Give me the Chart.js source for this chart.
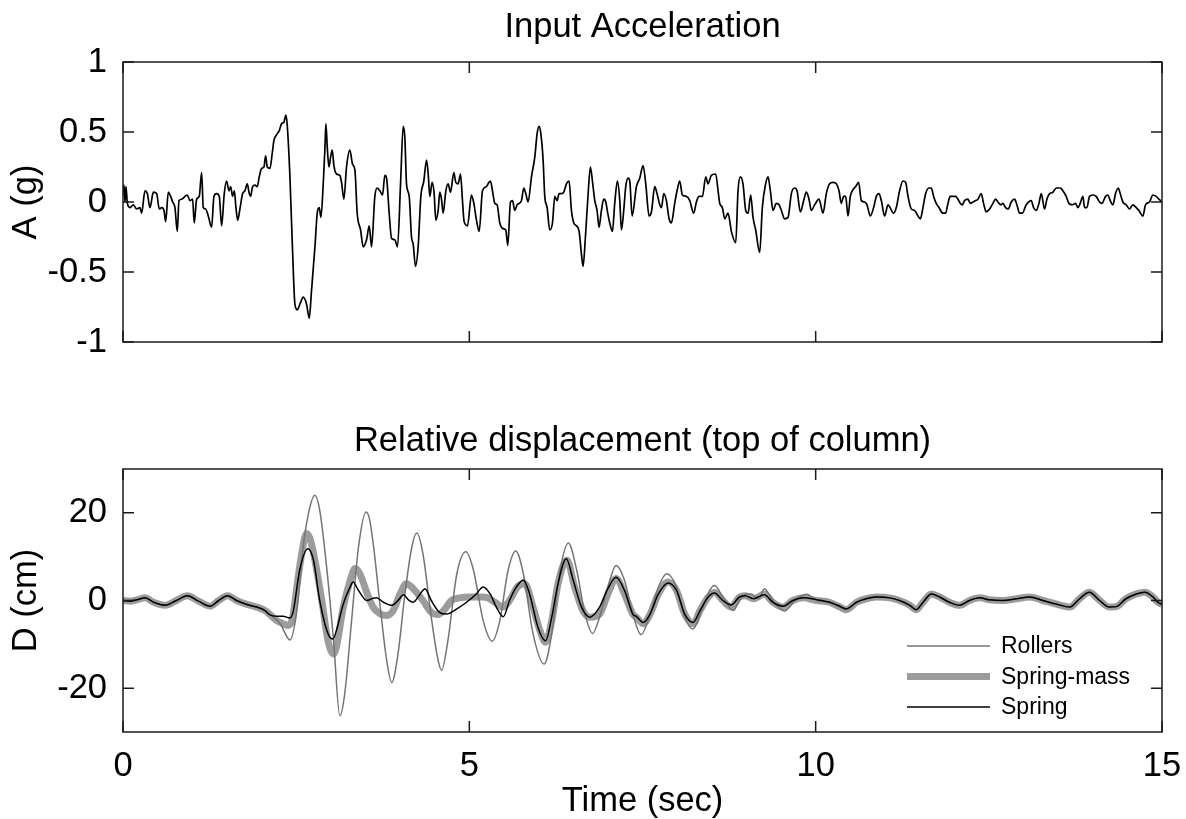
<!DOCTYPE html>
<html>
<head>
<meta charset="utf-8">
<title>Input Acceleration / Relative displacement</title>
<script src="https://cdn.jsdelivr.net/npm/chart.js@4"></script>
<style>
  html, body { margin: 0; padding: 0; background: #fff; }
  #wrap { position: relative; width: 1186px; height: 819px; }
  #wrap canvas { position: absolute; left: 0; }
</style>
</head>
<body>
<div id="wrap">
  <canvas id="accChart" width="1186" height="390" style="top:0px"></canvas>
  <canvas id="dispChart" width="1186" height="419" style="top:400px"></canvas>
</div>
<script>
// ---- data ----
const timeTicks = [0, 5, 10, 15];
const accTicks = [-1, -0.5, 0, 0.5, 1];
const dispTicks = [-20, 0, 20];

// input acceleration (g)
const accTime = [
  0, 0.014, 0.029, 0.043, 0.063, 0.101, 0.149, 0.197, 0.245, 0.269, 0.317, 0.351, 0.39, 0.438, 0.486, 0.524, 0.558, 0.592, 0.616, 0.654,
  0.688, 0.717, 0.75, 0.784, 0.808, 0.847, 0.895, 0.928, 0.967, 1.005, 1.029, 1.063, 1.101, 1.135, 1.159, 1.193, 1.231, 1.279, 1.313, 1.352,
  1.39, 1.424, 1.462, 1.496, 1.53, 1.554, 1.582, 1.607, 1.631, 1.655, 1.688, 1.727, 1.76, 1.794, 1.823, 1.842, 1.871, 1.905, 1.938, 1.967,
  2.001, 2.035, 2.059, 2.083, 2.121, 2.155, 2.179, 2.217, 2.256, 2.29, 2.323, 2.352, 2.371, 2.41, 2.448, 2.482, 2.516, 2.554, 2.602, 2.65,
  2.689, 2.722, 2.771, 2.804, 2.833, 2.857, 2.891, 2.915, 2.929, 2.949, 2.973, 2.997, 3.021, 3.045, 3.083, 3.131, 3.155, 3.189, 3.227, 3.275,
  3.314, 3.348, 3.381, 3.43, 3.468, 3.516, 3.555, 3.588, 3.636, 3.67, 3.708, 3.747, 3.78, 3.805, 3.843, 3.877, 3.925, 3.963, 4.007, 4.045,
  4.069, 4.093, 4.132, 4.165, 4.189, 4.223, 4.261, 4.3, 4.343, 4.382, 4.406, 4.43, 4.463, 4.492, 4.516, 4.55, 4.574, 4.598, 4.622, 4.661,
  4.694, 4.728, 4.776, 4.805, 4.839, 4.872, 4.901, 4.925, 4.973, 5.031, 5.065, 5.103, 5.142, 5.19, 5.247, 5.281, 5.305, 5.334, 5.368, 5.401,
  5.44, 5.488, 5.526, 5.555, 5.594, 5.623, 5.656, 5.69, 5.719, 5.753, 5.786, 5.815, 5.849, 5.897, 5.945, 5.979, 6.007, 6.032, 6.065, 6.089,
  6.123, 6.161, 6.2, 6.234, 6.267, 6.296, 6.33, 6.363, 6.402, 6.44, 6.474, 6.508, 6.546, 6.585, 6.618, 6.642, 6.676, 6.715, 6.748, 6.777,
  6.811, 6.844, 6.873, 6.907, 6.941, 6.97, 6.998, 7.027, 7.066, 7.099, 7.138, 7.172, 7.196, 7.229, 7.258, 7.292, 7.316, 7.35, 7.412, 7.46,
  7.508, 7.547, 7.595, 7.629, 7.677, 7.71, 7.749, 7.773, 7.807, 7.845, 7.884, 7.917, 7.965, 7.999, 8.037, 8.076, 8.134, 8.182, 8.239, 8.278,
  8.316, 8.365, 8.413, 8.446, 8.494, 8.557, 8.591, 8.615, 8.653, 8.687, 8.735, 8.783, 8.846, 8.879, 8.913, 8.951, 8.99, 9.024, 9.062, 9.096,
  9.134, 9.192, 9.23, 9.278, 9.312, 9.346, 9.384, 9.432, 9.471, 9.505, 9.553, 9.601, 9.649, 9.697, 9.731, 9.779, 9.827, 9.865, 9.904, 9.937,
  9.986, 10.048, 10.106, 10.154, 10.202, 10.25, 10.298, 10.337, 10.37, 10.404, 10.433, 10.467, 10.5, 10.529, 10.577, 10.62, 10.659, 10.707, 10.741, 10.789,
  10.837, 10.876, 10.914, 10.948, 10.996, 11.044, 11.126, 11.164, 11.212, 11.26, 11.299, 11.333, 11.381, 11.429, 11.477, 11.511, 11.549, 11.588, 11.636, 11.669,
  11.703, 11.741, 11.78, 11.838, 11.876, 11.91, 11.943, 11.982, 12.02, 12.054, 12.088, 12.117, 12.15, 12.198, 12.232, 12.271, 12.309, 12.343, 12.391, 12.424,
  12.463, 12.511, 12.559, 12.598, 12.631, 12.67, 12.703, 12.742, 12.78, 12.824, 12.872, 12.905, 12.944, 12.982, 13.04, 13.112, 13.146, 13.184, 13.223, 13.257,
  13.305, 13.338, 13.377, 13.425, 13.473, 13.531, 13.569, 13.617, 13.656, 13.704, 13.752, 13.786, 13.819, 13.858, 13.882, 13.915, 13.954, 14.002, 14.05, 14.098,
  14.132, 14.185, 14.218, 14.252, 14.291, 14.329, 14.368, 14.397, 14.435, 14.483, 14.531, 14.579, 14.628, 14.666, 14.724, 14.762, 14.82, 14.868, 14.916, 14.955,
  15
];
const accG = [
  0.05, 0.12, 0, 0.11, -0.01, -0.04, -0.02, -0.05, -0.04, -0.08, 0.08, 0.06, -0.04, 0.07, 0.06, -0.05, -0.04, -0.06, -0.14, 0.07,
  0.04, 0, -0.04, -0.21, 0.01, 0.02, 0.04, 0.05, 0.01, 0.02, -0.15, 0.02, 0.04, 0.21, -0.04, -0.05, -0.1, -0.18, 0.04, 0.06,
  0.04, -0.17, 0.06, 0.15, 0.08, 0.11, 0.04, 0.08, -0.04, -0.13, -0.05, 0.06, 0.08, 0.13, 0.06, 0.04, 0.11, 0.12, 0.11, 0.18,
  0.24, 0.25, 0.33, 0.25, 0.24, 0.35, 0.44, 0.48, 0.51, 0.56, 0.57, 0.62, 0.55, 0.18, -0.35, -0.73, -0.77, -0.73, -0.68, -0.73,
  -0.83, -0.63, -0.32, -0.08, -0.04, -0.11, 0.13, 0.38, 0.56, 0.39, 0.25, 0.32, 0.37, 0.26, 0.2, 0.19, 0.14, 0.02, 0.25, 0.37,
  0.27, 0.23, -0.08, -0.2, -0.32, -0.27, -0.17, -0.32, 0.04, 0.1, 0.08, 0.05, 0.19, 0.17, -0.08, -0.26, -0.27, -0.32, 0.13, 0.54,
  0.46, 0.13, 0.04, -0.25, -0.3, -0.46, -0.32, 0.04, 0.15, 0.3, 0.2, 0.04, 0.14, 0.06, -0.13, -0.06, 0.07, 0.02, -0.08, 0.08,
  0.13, 0.07, 0.21, 0.14, 0.13, 0.2, 0.01, -0.14, -0.17, 0.05, -0.01, -0.13, -0.21, 0.08, 0.11, 0.14, 0.15, 0.08, -0.01, -0.02,
  -0.15, -0.19, -0.2, -0.31, 0, 0.01, -0.06, -0.02, -0.01, 0.01, 0.1, 0.06, 0, 0.18, 0.32, 0.49, 0.54, 0.49, 0.3, 0.04,
  -0.04, -0.2, -0.15, 0.04, 0.01, 0.06, 0.06, 0.07, 0.13, 0.15, -0.06, -0.15, -0.17, -0.21, -0.37, -0.46, -0.25, 0.06, 0.25, 0.15,
  0.01, -0.06, -0.18, -0.06, 0.02, 0, -0.08, -0.15, -0.21, -0.01, 0.15, 0.01, -0.2, -0.06, 0.11, 0.17, 0.15, -0.1, 0.11, 0.17,
  0.26, 0.13, -0.1, -0.07, 0.11, 0.06, -0.02, -0.04, 0.06, 0.01, -0.12, -0.15, -0.01, 0.08, 0.15, 0.05, 0.04, 0.01, -0.08, 0,
  0.04, 0.04, 0.18, 0.13, 0.19, 0.2, 0.08, -0.01, -0.04, -0.12, -0.08, -0.21, -0.29, 0.08, 0.18, 0.13, -0.06, -0.08, 0.05, -0.11,
  -0.2, -0.36, -0.04, 0.13, 0.18, 0.08, -0.06, -0.01, -0.02, -0.06, -0.12, -0.11, 0.06, 0.1, 0.08, -0.07, 0.01, 0.07, 0.02, -0.06,
  -0.02, 0.02, -0.08, 0.06, 0.13, 0.14, 0.13, 0.08, -0.01, 0.04, 0.04, -0.1, 0.04, 0.08, 0.11, 0.14, 0.01, 0, -0.02, -0.1,
  -0.04, 0.04, 0.06, 0.01, -0.1, -0.02, -0.08, -0.04, 0.08, 0.15, 0.14, 0.04, -0.05, -0.06, -0.1, -0.12, -0.04, 0.06, 0.1, 0.1,
  0.04, -0.01, -0.04, -0.08, -0.08, -0.01, 0.04, 0.04, 0.04, 0.02, -0.01, -0.02, 0.01, 0.02, -0.01, 0, 0.01, 0.02, 0.06, -0.01,
  -0.07, -0.05, -0.01, 0.02, 0, -0.02, -0.01, -0.04, -0.05, 0, 0.02, -0.02, -0.08, -0.08, -0.02, 0.01, -0.04, -0.06, -0.01, 0.06,
  -0.05, 0.02, 0.06, 0.07, 0.1, 0.1, 0.08, 0.04, -0.01, -0.02, -0.01, -0.04, -0.01, 0.04, -0.04, -0.04, 0.04, 0.05, 0.04, 0,
  -0.01, 0.04, 0.05, 0.01, -0.02, 0.06, 0.1, 0.06, 0, -0.02, -0.05, -0.02, -0.04, -0.06, -0.1, -0.02, 0, 0.05, 0.04, 0.02,
  0
];

// relative displacement, top of column (cm)
const rollersTime = [
  0, 0.10, 0.20, 0.32, 0.44, 0.61, 0.77, 0.93, 1.09, 1.26, 1.38, 1.51, 1.64, 1.79, 1.93, 2.05, 2.12, 2.27, 2.41, 2.51,
  2.60, 2.70, 2.77, 2.84, 2.94, 3.04, 3.13, 3.20, 3.30, 3.40, 3.51, 3.56, 3.62, 3.71, 3.81, 3.88, 3.97, 4.07, 4.17, 4.24,
  4.33, 4.45, 4.55, 4.60, 4.69, 4.82, 4.95, 5.06, 5.20, 5.33, 5.44, 5.56, 5.67, 5.78, 5.92, 6.08, 6.19, 6.31, 6.43, 6.55,
  6.67, 6.78, 6.88, 7.00, 7.12, 7.24, 7.36, 7.48, 7.61, 7.73, 7.85, 7.99, 8.11, 8.23, 8.35, 8.47, 8.54, 8.66, 8.81, 8.90,
  9.00, 9.07, 9.17, 9.26, 9.38, 9.55, 9.70, 9.87, 10.01, 10.20, 10.35, 10.44, 10.59, 10.88, 11.07, 11.21, 11.36, 11.45, 11.55, 11.67,
  11.79, 11.93, 12.08, 12.22, 12.37, 12.51, 12.70, 12.90, 13.09, 13.28, 13.47, 13.67, 13.81, 13.95, 14.10, 14.24, 14.34, 14.48, 14.63, 14.75,
  14.87, 14.94, 15
];
const rollersDisp = [
  0, -0.15, 0.15, 0.6, -0.4, -1.1, 0, 1.1, -0.15, -1.3, 0, 1.1, 0, -0.9, -1.5, -2.3, -3.1, -5.3, -9.0, -2.3,
  12.2, 21.4, 24.0, 20.6, 7.6, -9.2, -26.3, -21.4, -4.6, 12.2, 20.2, 18.5, 12.0, -1.0, -14.0, -18.7, -12.2, 1.5, 12.2, 15.4,
  10.7, -3.8, -13.7, -15.9, -9.2, 6.1, 11.1, 6.9, -4.6, -9.3, -4.6, 6.9, 11.3, 6.1, -7.6, -14.5, -7.6, 6.9, 13.1, 6.9,
  -3.1, -7.5, -3.8, 3.1, 8.0, 4.6, -3.1, -7.8, -3.1, 3.1, 6.1, 3.1, -3.8, -6.5, -2.3, 2.3, 3.4, 0.8, -2.3, 0,
  1.5, 1.5, 0.4, 2.7, 0, -2.4, 0, 1.4, 0, -0.4, -1.5, -2.1, -0.4, 0.9, 0.6, 0, -1.1, -2.1, -0.4, 1.5,
  0.8, -0.4, -1.1, 0, 0.6, 0.15, 0, 0.4, 0.8, 0, -0.8, -1.5, 0.4, 1.9, 0, -1.5, -1.4, 0.4, 1.5, 1.9,
  0.8, -0.4, -0.9
];

const springMassTime = [
  0, 0.10, 0.20, 0.32, 0.44, 0.61, 0.77, 0.93, 1.09, 1.26, 1.38, 1.51, 1.64, 1.79, 1.93, 2.05, 2.12, 2.22, 2.31, 2.39,
  2.45, 2.51, 2.58, 2.65, 2.70, 2.77, 2.87, 2.96, 3.04, 3.08, 3.18, 3.28, 3.35, 3.42, 3.52, 3.61, 3.71, 3.81, 3.90, 4.00,
  4.09, 4.19, 4.33, 4.45, 4.55, 4.65, 4.74, 4.86, 5.01, 5.18, 5.27, 5.37, 5.49, 5.58, 5.70, 5.80, 5.92, 6.02, 6.10, 6.19,
  6.28, 6.41, 6.52, 6.64, 6.74, 6.88, 7.00, 7.12, 7.24, 7.36, 7.41, 7.51, 7.61, 7.73, 7.87, 7.99, 8.11, 8.23, 8.33, 8.45,
  8.54, 8.66, 8.78, 8.90, 8.98, 9.10, 9.17, 9.26, 9.38, 9.53, 9.67, 9.82, 10.01, 10.20, 10.35, 10.44, 10.59, 10.73, 10.88, 11.07,
  11.21, 11.36, 11.45, 11.55, 11.67, 11.79, 11.93, 12.08, 12.22, 12.37, 12.51, 12.70, 12.90, 13.09, 13.28, 13.47, 13.67, 13.81, 13.95, 14.10,
  14.24, 14.34, 14.48, 14.63, 14.75, 14.87, 14.94, 15
];
const springMassDisp = [
  0, -0.15, 0.15, 0.6, -0.4, -1.1, 0, 1.1, -0.15, -1.3, 0, 1.1, 0, -0.9, -1.5, -2.3, -3.2, -4.6, -5.3, -5.7,
  -3.8, 3.1, 10.7, 15.3, 14.1, 9.2, 0, -9.2, -12.2, -10.7, -1.5, 4.6, 7.3, 6.1, 1.8, -1.5, -3.0, -3.4, -2.3, 1.5,
  3.8, 2.7, 0, -2.7, -3.2, -1.9, 0, 0.6, 0.8, 0.8, 0.6, -0.4, -1.5, 0, 3.2, 3.8, -1.5, -6.9, -9.5, -4.6,
  3.8, 9.2, 3.1, -2.3, -3.8, -3.1, 1.5, 5.0, 1.5, -3.1, -3.8, -5.3, -3.1, 1.5, 4.2, 2.3, -3.1, -5.3, -2.3, 0.8,
  1.9, 0, -1.5, 0.8, 1.1, 0.4, 0.8, 1.5, -0.4, -1.5, 0, 0.6, 0, -0.4, -1.5, -2.1, -0.4, 0.4, 0.8, 0.6,
  0, -1.1, -2.1, -0.4, 1.5, 0.8, -0.4, -1.1, 0, 0.6, 0.15, 0, 0.4, 0.8, 0, -0.8, -1.5, 0.4, 1.9, 0,
  -1.5, -1.4, 0.4, 1.5, 1.9, 0.8, -0.4, -0.9
];

const springTime = [
  0, 0.10, 0.20, 0.32, 0.44, 0.61, 0.77, 0.93, 1.09, 1.26, 1.38, 1.51, 1.64, 1.79, 1.93, 2.05, 2.12, 2.22, 2.31, 2.41,
  2.46, 2.55, 2.67, 2.75, 2.84, 2.96, 3.03, 3.08, 3.18, 3.28, 3.32, 3.40, 3.52, 3.61, 3.66, 3.76, 3.88, 3.97, 4.05, 4.12,
  4.19, 4.29, 4.36, 4.45, 4.57, 4.67, 4.82, 4.96, 5.10, 5.20, 5.30, 5.39, 5.49, 5.58, 5.68, 5.78, 5.87, 5.99, 6.10, 6.19,
  6.28, 6.40, 6.50, 6.62, 6.74, 6.88, 7.00, 7.12, 7.24, 7.36, 7.41, 7.51, 7.61, 7.73, 7.87, 7.99, 8.11, 8.23, 8.33, 8.45,
  8.54, 8.66, 8.78, 8.90, 8.98, 9.10, 9.17, 9.26, 9.38, 9.53, 9.67, 9.82, 10.01, 10.20, 10.35, 10.44, 10.59, 10.73, 10.88, 11.07,
  11.21, 11.36, 11.45, 11.55, 11.67, 11.79, 11.93, 12.08, 12.22, 12.37, 12.51, 12.70, 12.90, 13.09, 13.28, 13.47, 13.67, 13.81, 13.95, 14.10,
  14.24, 14.34, 14.48, 14.63, 14.75, 14.87, 14.94, 15
];
const springDisp = [
  0, -0.15, 0.15, 0.6, -0.4, -1.1, 0, 1.1, -0.15, -1.3, 0, 1.1, 0, -0.9, -1.5, -2.3, -3.3, -3.6, -3.6, -4.0,
  -2.3, 6.9, 11.8, 9.2, 0, -7.6, -8.8, -6.9, -0.8, 3.1, 4.2, 2.3, 0, 0.5, 0.6, -0.4, -1.1, 0, 1.3, 0.15,
  -0.4, 1.5, 2.7, 0, -2.7, -3.1, -1.9, -0.4, 1.5, 3.1, 1.5, -1.5, -3.7, 0, 3.1, 4.7, 1.5, -6.1, -9.2, -3.8,
  3.8, 9.5, 4.6, -1.5, -3.8, -1.5, 2.7, 5.3, 2.3, -3.1, -3.6, -5.0, -3.1, 1.5, 4.0, 2.3, -3.1, -5.0, -2.3, 0.8,
  1.7, 0, -1.0, 0.8, 1.1, 0.4, 0.8, 1.3, -0.4, -1.3, 0, 0.6, 0.2, -0.4, -1.3, -1.9, -0.4, 0.4, 0.8, 0.6,
  0, -1.1, -2.1, -0.4, 1.5, 0.8, -0.4, -1.1, 0, 0.6, 0.15, 0, 0.4, 0.8, 0, -0.8, -1.5, 0.4, 1.9, 0,
  -1.5, -1.4, 0.4, 1.5, 1.9, 0.8, -0.4, -0.9
];

// ---- drawing ----
const FONT = '"Liberation Sans", Arial, Helvetica, sans-serif';
const FONT_SIZE = 34.5;
Chart.defaults.font.family = FONT;
Chart.defaults.font.size = FONT_SIZE;
Chart.defaults.color = '#000';

const TICK_LEN = 11;

function toPoints(ts, vs) {
  return ts.map((t, i) => ({ x: t, y: vs[i] }));
}

function fixTicks(values) {
  return function(scale) {
    scale.ticks = values.map(v => ({ value: v }));
  };
}

// matlab-style box with inward ticks on all four sides
const boxPlugin = {
  id: 'matlabBox',
  afterDatasetsDraw(chart) {
    const { ctx, chartArea: a, scales: { x, y } } = chart;
    ctx.save();
    ctx.strokeStyle = '#1a1a1a';
    ctx.lineWidth = 1.5;
    ctx.strokeRect(a.left, a.top, a.right - a.left, a.bottom - a.top);
    ctx.beginPath();
    x.ticks.forEach(t => {
      const px = x.getPixelForValue(t.value);
      ctx.moveTo(px, a.top);
      ctx.lineTo(px, a.top + TICK_LEN);
      ctx.moveTo(px, a.bottom);
      ctx.lineTo(px, a.bottom - TICK_LEN);
    });
    y.ticks.forEach(t => {
      const py = y.getPixelForValue(t.value);
      ctx.moveTo(a.left, py);
      ctx.lineTo(a.left + TICK_LEN, py);
      ctx.moveTo(a.right, py);
      ctx.lineTo(a.right - TICK_LEN, py);
    });
    ctx.stroke();
    ctx.restore();
  }
};

// title centred over the axes box (matlab style), not over the canvas
const axesTitle = {
  id: 'axesTitle',
  afterDraw(chart, args, opts) {
    const { ctx, chartArea: a } = chart;
    ctx.save();
    ctx.font = FONT_SIZE + 'px ' + FONT;
    ctx.fillStyle = '#000';
    ctx.textAlign = 'center';
    ctx.textBaseline = 'alphabetic';
    ctx.fillText(opts.text, (a.left + a.right) / 2, a.top - opts.gap);
    ctx.restore();
  }
};

// legend drawn inside the lower right corner, no frame
const legendOrder = ['Rollers', 'Spring-mass', 'Spring'];
const insideLegend = {
  id: 'insideLegend',
  afterDatasetsDraw(chart) {
    const { ctx, chartArea: a } = chart;
    ctx.save();
    ctx.font = '23px ' + FONT;
    ctx.textBaseline = 'middle';
    ctx.textAlign = 'left';
    ctx.fillStyle = '#000';
    legendOrder.forEach((label, i) => {
      const ds = chart.data.datasets.find(d => d.label === label);
      const yy = a.bottom - 86 + i * 30.5;
      ctx.strokeStyle = ds.borderColor;
      ctx.lineWidth = ds.borderWidth;
      ctx.beginPath();
      ctx.moveTo(a.right - 255, yy);
      ctx.lineTo(a.right - 172, yy);
      ctx.stroke();
      ctx.fillText(label, a.right - 161, yy + 1);
    });
    ctx.restore();
  }
};

function xScale(showLabels, axisHeight) {
  return {
    type: 'linear',
    min: 0,
    max: 15,
    afterBuildTicks: fixTicks(timeTicks),
    afterFit: s => { s.height = axisHeight; s.paddingLeft = 0; s.paddingRight = 0; },
    grid: { display: false },
    border: { display: false },
    ticks: { display: showLabels, padding: 6, maxRotation: 0, callback: v => String(v) },
    title: { display: showLabels, text: 'Time (sec)', padding: { top: 0, bottom: -3 } }
  };
}

function yScale(min, max, ticks, label) {
  return {
    type: 'linear',
    min: min,
    max: max,
    afterBuildTicks: fixTicks(ticks),
    afterFit: s => { s.width = 123; },
    grid: { display: false },
    border: { display: false },
    ticks: { padding: 8, callback: v => String(v) },
    title: { display: true, text: label, padding: { top: 6, bottom: 0 } }
  };
}

function baseOptions(topSpace, titleText, titleGap, xOpts, yOpts) {
  return {
    responsive: false,
    animation: false,
    events: [],
    layout: { padding: { left: 0, right: 24, top: topSpace, bottom: 0 } },
    plugins: {
      legend: { display: false },
      tooltip: { enabled: false },
      axesTitle: { text: titleText, gap: titleGap }
    },
    scales: { x: xOpts, y: yOpts }
  };
}

new Chart(document.getElementById('accChart'), {
  type: 'line',
  data: {
    datasets: [{
      label: 'Input acceleration',
      data: toPoints(accTime, accG),
      borderColor: '#000',
      borderWidth: 1.7,
      pointRadius: 0,
      cubicInterpolationMode: 'monotone'
    }]
  },
  options: baseOptions(62, 'Input Acceleration', 25, xScale(false, 48), yScale(-1, 1, accTicks, 'A (g)')),
  plugins: [boxPlugin, axesTitle]
});

new Chart(document.getElementById('dispChart'), {
  type: 'line',
  data: {
    datasets: [
      {
        label: 'Rollers',
        data: toPoints(rollersTime, rollersDisp),
        borderColor: '#747474',
        borderWidth: 1.5,
        pointRadius: 0,
        cubicInterpolationMode: 'monotone',
        order: 1
      },
      {
        label: 'Spring-mass',
        data: toPoints(springMassTime, springMassDisp),
        borderColor: '#9c9c9c',
        borderWidth: 7,
        pointRadius: 0,
        cubicInterpolationMode: 'monotone',
        order: 2
      },
      {
        label: 'Spring',
        data: toPoints(springTime, springDisp),
        borderColor: '#000',
        borderWidth: 1.5,
        pointRadius: 0,
        cubicInterpolationMode: 'monotone',
        order: 0
      }
    ]
  },
  options: baseOptions(69, 'Relative displacement (top of column)', 18, xScale(true, 87), yScale(-30, 30, dispTicks, 'D (cm)')),
  plugins: [boxPlugin, axesTitle, insideLegend]
});
</script>
</body>
</html>
